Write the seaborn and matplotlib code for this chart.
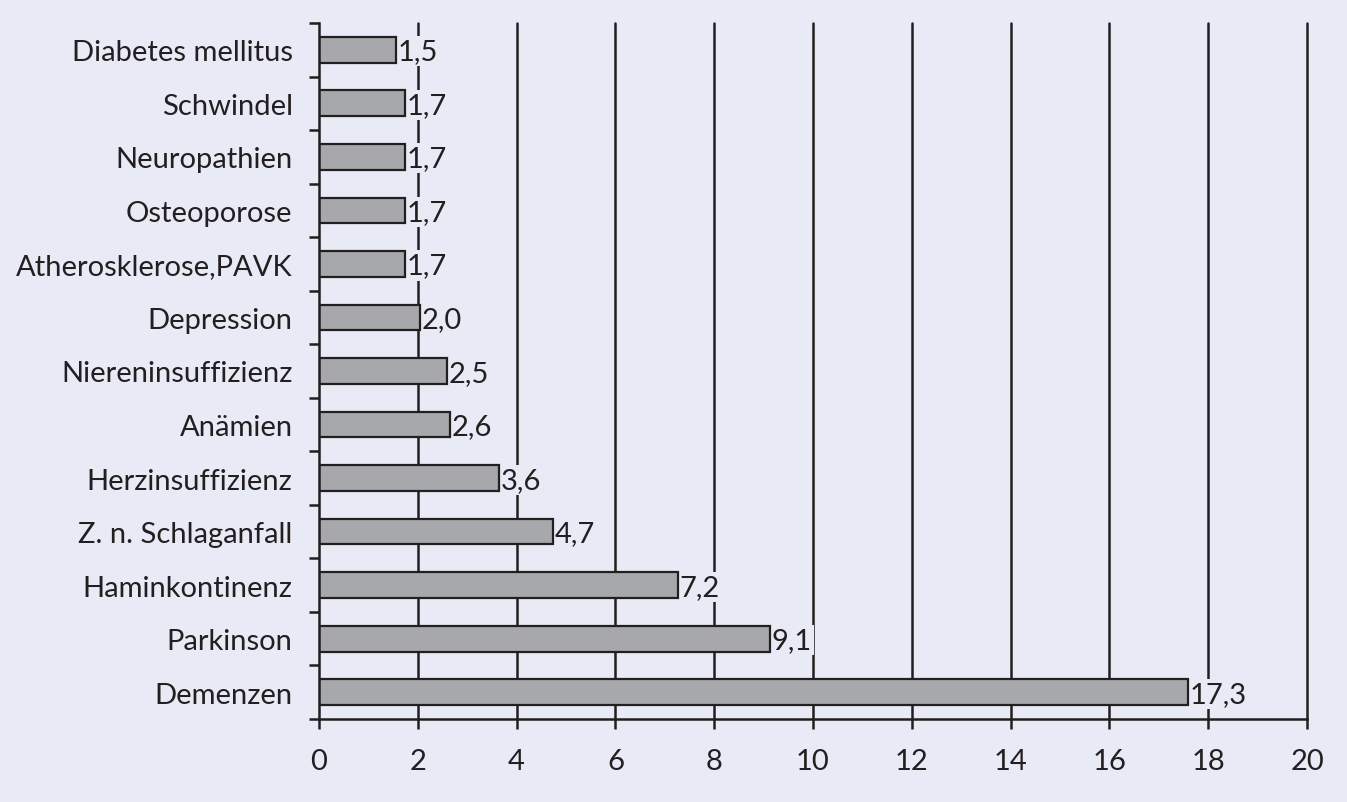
import numpy as np
import pandas as pd
import matplotlib
matplotlib.use("Agg")
import matplotlib.pyplot as plt
import seaborn as sns

# Data
categories = ["Diabetes mellitus", "Schwindel", "Neuropathien", "Osteoporose",
              "Atherosklerose,PAVK", "Depression", "Niereninsuffizienz", "Anämien",
              "Herzinsuffizienz", "Z. n. Schlaganfall", "Haminkontinenz",
              "Parkinson", "Demenzen"]
bar_values = [1.56, 1.75, 1.75, 1.75, 1.75, 2.05, 2.6, 2.65, 3.64, 4.74, 7.27, 9.13, 17.6]
value_labels = ["1,5", "1,7", "1,7", "1,7", "1,7", "2,0", "2,5", "2,6", "3,6",
                "4,7", "7,2", "9,1", "17,3"]
x_ticks = [0, 2, 4, 6, 8, 10, 12, 14, 16, 18, 20]

BG = "#e8ebf6"
BAR = "#a7a8ab"
INK = "#231f20"
FS = 21

sns.set_theme(style="white")
plt.rcParams["font.family"] = ["Lato", "DejaVu Sans"]

df = pd.DataFrame({"Erkrankung": categories, "Wert": bar_values})

fig = plt.figure(figsize=(13.47, 8.03), dpi=100, facecolor=BG)
ax = fig.add_axes([319 / 1347, 1 - 720 / 803, (1307 - 319) / 1347, (720 - 24) / 803])
ax.set_facecolor(BG)

# vertical grid lines
for xv in x_ticks[1:]:
    ax.axvline(xv, color=INK, lw=1.8, zorder=0, clip_on=False)

sns.barplot(data=df, x="Wert", y="Erkrankung", orient="h", color=BAR,
            width=0.48, edgecolor=INK, linewidth=1.6, saturation=1, ax=ax, zorder=2)

# value labels sit on a background patch (below the bars), so they break the grid lines
for i, (v, lab) in enumerate(zip(bar_values, value_labels)):
    ax.text(v + 0.03, i + 0.03, lab, va="center", ha="left", fontsize=FS, color=INK,
            zorder=1, bbox=dict(facecolor=BG, edgecolor="none", pad=1.5))

ax.set_xlim(0, 20)
ax.set_ylim(12.5, -0.5)
ax.set_xticks(x_ticks)
ax.set_xticklabels([str(t) for t in x_ticks], fontsize=FS, color=INK)
ax.set_yticks(range(len(categories)))
ax.set_yticklabels(categories, fontsize=FS, color=INK)
ax.set_yticks(np.arange(-0.5, len(categories), 1), minor=True)
ax.tick_params(axis="y", which="major", length=0, pad=19)
ax.tick_params(axis="y", which="minor", length=7, width=1.8, color=INK, direction="out", left=True)
ax.tick_params(axis="x", which="major", length=7, width=1.8, color=INK, direction="out",
               pad=14, bottom=True)
ax.set_xlabel("")
ax.set_ylabel("")

for side in ["top", "right"]:
    ax.spines[side].set_visible(False)
for side in ["left", "bottom"]:
    ax.spines[side].set_color(INK)
    ax.spines[side].set_linewidth(1.8)

fig.savefig("out.png", dpi=100, facecolor=BG)
